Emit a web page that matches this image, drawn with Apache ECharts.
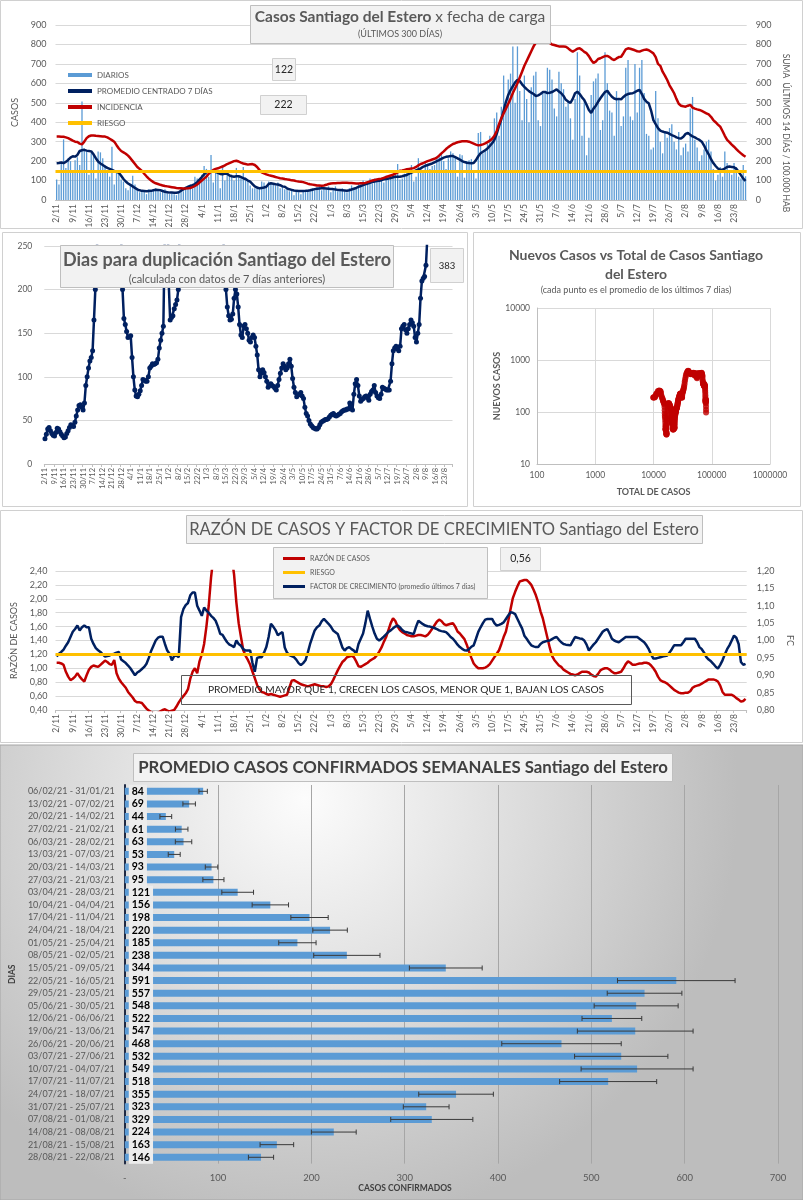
<!DOCTYPE html>
<html><head><meta charset="utf-8">
<script src="https://cdn.jsdelivr.net/npm/echarts@6/dist/echarts.min.js"></script>
<style>html,body{margin:0;padding:0;background:#fff}#c{width:803px;height:1200px}</style>
</head><body><div id="c"></div>
<script>
// ---------- DATA ----------
const START_DAY = Date.UTC(2020, 10, 2); // 2/11/2020, 300 days to 28/8/2021
const N_DAYS = 300;
const DAYS = [];
for (let i = 0; i < N_DAYS; i++) { const d = new Date(START_DAY + i * 86400000); DAYS.push(d.getUTCDate() + '/' + (d.getUTCMonth() + 1)); }

const DIARIOS = [
105,80,195,312,165,215,200,140,205,220, 180,506,265,250,130,240,230,110,250,245,
215,180,150,120,274,80,150,140,105,95, 60,50,75,125,80,60,40,50,45,30,
55,45,55,60,50,40,45,55,35,30, 35,30,25,40,55,45,60,70,80,60,
120,110,90,130,175,160,120,231,90,150, 150,60,180,100,135,120,130,100,165,120,
110,170,115,95,75,60,60,60,65,95, 90,70,95,85,80,75,90,60,70,55,
60,45,50,25,45,40,30,50,45,50, 55,60,50,65,75,50,60,55,70,40,
55,70,45,50,60,45,40,60,75,55, 60,85,80,100,75,90,110,85,110,100,
105,115,90,125,120,110,135,130,185,105, 110,135,150,165,180,95,120,215,160,150,
190,175,160,175,180,220,230,240,200,160, 215,250,240,225,120,235,230,115,200,205,
210,140,110,345,350,240,260,290,330,300, 420,450,330,480,640,500,620,650,790,500,
790,560,410,640,520,400,580,640,660,410, 380,560,550,680,670,620,470,430,660,600,
570,480,510,420,310,520,760,640,330,520, 230,320,540,610,625,650,360,410,760,600,
460,450,330,560,520,380,430,680,720,430, 410,700,450,680,720,550,340,330,260,270,
560,420,300,240,350,320,370,390,300,260, 350,230,270,290,250,470,530,310,270,200,
230,260,300,310,250,160,100,130,170,120, 250,190,150,130,190,170,120,110,180,122];

const PROMEDIO = [
189,190,193,190,196,206,218,225,223,232, 252,256,258,254,252,250,235,215,198,188,
180,172,165,160,155,150,146,140,125,108, 95,85,78,70,62,55,50,47,46,45,
46,47,50,53,52,50,46,42,40,38, 38,37,37,40,48,55,62,68,72,76,
82,92,105,118,132,145,148,148,146,145, 140,134,132,136,135,126,122,120,122,122,
118,112,108,100,94,82,70,64,60,62, 64,68,82,86,84,81,80,76,70,68,
60,55,52,49,47,46,46,46,47,48, 50,53,56,58,59,60,60,59,58,57,
56,54,52,51,50,49,48,50,54,58, 62,67,72,77,81,85,89,92,95,97,
99,102,106,108,110,113,117,120,120,120, 122,126,129,135,141,146,152,158,163,170,
175,180,184,188,194,200,205,212,218,222, 224,226,226,220,214,208,200,195,192,190,
189,190,205,225,240,248,256,265,278,292, 310,340,380,415,460,505,540,565,585,605,
618,612,595,582,570,560,552,545,535,538, 545,555,556,550,552,555,562,569,558,549,
535,515,506,500,520,549,557,545,528,514, 490,463,448,470,485,505,523,540,555,562,
545,531,522,518,520,518,530,540,545,548, 549,555,562,566,545,520,505,497,460,411,
390,370,357,352,348,346,340,334,329,322, 318,316,325,340,345,335,327,322,315,309,
300,280,255,235,210,190,175,162,155,156, 162,170,172,170,168,160,145,128,110,98];

const INCIDENCIA = [
326,326,325,325,322,318,312,305,300,298, 290,286,300,318,328,332,332,330,329,328,
327,326,322,315,308,300,282,265,252,245, 238,228,215,200,185,170,160,150,135,122,
110,100,92,86,82,78,75,72,70,68, 66,64,62,61,60,59,59,60,62,66,
72,80,90,100,110,120,135,145,155,160, 163,168,172,178,185,190,195,200,202,198,
192,188,185,182,184,185,180,170,155,142, 137,132,128,125,122,118,115,112,111,108,
106,104,101,100,97,95,94,92,88,84, 81,79,77,75,74,73,75,78,82,85,
86,86,87,88,89,89,89,88,87,86, 85,85,86,86,88,92,96,100,103,106,
108,110,114,118,122,126,130,136,142,150, 152,155,158,160,162,164,170,178,185,189,
195,200,204,208,212,218,228,240,250,262, 272,280,288,292,297,300,302,302,302,300,
295,290,285,281,283,286,291,298,305,315, 330,355,390,420,445,470,495,520,550,575,
600,630,660,690,715,740,765,790,810,822, 835,840,832,818,808,800,797,793,790,789,
789,788,780,770,763,770,778,780,772,762, 755,740,720,705,712,725,729,735,740,741,
735,725,720,728,735,737,755,775,780,778, 774,770,765,763,768,772,774,770,762,754,
735,700,690,660,640,617,590,570,549,520, 495,485,482,480,485,489,475,470,466,463,
458,452,446,440,428,411,400,388,377,355, 330,309,298,285,274,262,250,240,230,222];

const RIESGO_CASOS = 150;

const DUPLICACION = [
29,34,40,42,38,35,33,32,36,41, 40,37,34,32,30,31,35,38,42,45,
44,43,48,55,62,67,68,65,62,70, 90,100,110,118,122,130,165,200,240,280,
320,360,400,450,500,560,620,700,750,700, 620,540,460,400,350,300,260,200,167,160,
152,145,146,147,122,100,85,78,77,80, 84,90,97,96,95,95,100,110,112,115,
114,115,116,120,133,142,150,158,260,380, 300,205,165,168,170,178,183,188,200,280,
350,420,500,560,600,620,640,600,560,520, 500,480,470,450,430,420,410,400,380,370,
360,350,340,330,320,310,300,290,280,270, 265,260,230,200,180,170,165,166,172,190,
200,195,180,160,148,145,158,160,155,150, 142,140,145,148,145,135,125,108,100,104,
108,105,100,95,88,90,92,90,89,87, 85,90,97,104,110,115,112,108,110,115,
120,112,98,88,82,77,79,80,82,78, 75,65,58,55,50,46,44,42,41,40,
40,42,45,48,49,50,51,51,52,54, 56,57,58,56,55,56,57,58,60,61,
62,62,63,63,70,65,62,80,92,97, 90,78,72,74,75,77,78,76,73,80,
83,85,90,82,78,76,75,80,88,87, 86,85,85,85,95,115,130,133,135,132,
130,135,155,158,160,154,150,155,160,165, 162,158,145,140,150,160,190,210,213,215,
228,260,290,310,320,330,340,345,350,355, 358,360,362,365,368,370,373,376,380,383];

const RAZON = [
1.08,1.08,1.07,1.05,0.95,0.88,0.83,0.85,0.88,0.93, 0.88,0.84,0.81,0.90,0.98,1.02,1.04,1.03,1.02,1.05,
1.08,1.11,1.09,1.06,1.05,1.12,0.93,0.85,0.80,0.76, 0.72,0.66,0.62,0.58,0.53,0.51,0.51,0.50,0.46,0.42,
0.39,0.37,0.36,0.35,0.36,0.38,0.40,0.41,0.39,0.38, 0.39,0.40,0.45,0.51,0.56,0.60,0.64,0.70,0.85,0.95,
1.00,0.93,1.10,1.20,1.35,1.60,1.90,2.30,2.60,2.90, 3.10,3.20,3.25,3.20,3.10,2.90,2.60,2.35,1.95,1.65,
1.45,1.26,1.18,1.12,1.05,0.95,0.86,0.76,0.70,0.66, 0.65,0.63,0.62,0.63,0.62,0.61,0.60,0.59,0.60,0.61,
0.62,0.72,0.82,0.83,0.81,0.79,0.77,0.76,0.75,0.74, 0.75,0.76,0.77,0.76,0.75,0.74,0.74,0.73,0.74,0.77,
0.83,0.90,0.97,1.03,1.09,1.12,1.16,1.17,1.18,1.16, 1.10,1.03,1.02,1.04,1.06,1.08,1.11,1.13,1.15,1.19,
1.24,1.30,1.38,1.45,1.55,1.65,1.72,1.68,1.60,1.55, 1.52,1.50,1.48,1.47,1.46,1.46,1.47,1.48,1.48,1.47,
1.46,1.48,1.52,1.57,1.62,1.67,1.70,1.68,1.64,1.62, 1.63,1.64,1.65,1.60,1.53,1.50,1.46,1.42,1.34,1.24,
1.15,1.07,1.03,1.00,1.00,1.00,1.01,1.03,1.06,1.11, 1.16,1.21,1.26,1.35,1.45,1.53,1.68,1.85,2.01,2.10,
2.18,2.25,2.26,2.27,2.27,2.24,2.20,2.13,2.05,1.95, 1.82,1.72,1.58,1.44,1.30,1.18,1.12,1.08,1.04,1.02,
0.98,0.96,0.94,0.92,0.91,0.90,0.91,0.93,0.95,0.95, 0.95,0.94,0.91,0.89,0.88,0.92,0.97,0.99,1.00,1.00,
0.98,0.95,0.93,0.93,0.94,0.95,1.00,1.06,1.10,1.08, 1.05,1.05,1.06,1.07,1.07,1.08,1.08,1.07,1.04,1.00,
0.95,0.88,0.83,0.81,0.80,0.78,0.75,0.72,0.69,0.67, 0.65,0.64,0.64,0.65,0.65,0.67,0.72,0.74,0.75,0.76,
0.78,0.80,0.82,0.84,0.84,0.84,0.83,0.81,0.75,0.66, 0.62,0.62,0.62,0.62,0.60,0.57,0.55,0.52,0.53,0.56];

const FACTOR = [
0.954,0.962,0.967,0.974,0.985,0.995,1.010,1.025,1.033,1.043, 1.029,1.038,1.043,1.038,1.038,1.005,0.990,0.978,0.972,0.967,
0.960,0.954,0.955,0.957,0.960,0.962,0.965,0.967,0.945,0.940, 0.935,0.928,0.920,0.910,0.900,0.908,0.912,0.918,0.924,0.933,
0.950,0.970,0.985,1.000,1.008,1.011,1.011,0.990,0.971,0.962, 0.943,0.955,0.957,0.952,1.067,1.090,1.102,1.108,1.130,1.138,
1.138,1.100,1.086,1.071,1.095,1.086,1.080,1.071,1.065,1.057, 1.040,1.019,1.016,1.005,0.995,0.988,0.985,0.981,1.000,0.990,
0.985,0.975,0.971,0.971,0.971,0.935,0.910,0.950,0.952,0.952, 0.965,0.981,1.010,1.048,1.040,1.030,1.015,1.020,1.024,0.980,
0.965,0.958,0.955,0.952,0.945,0.935,0.929,0.935,0.943,0.965, 0.990,1.010,1.029,1.038,1.043,1.055,1.062,1.055,1.048,1.040,
1.029,1.024,1.019,1.000,0.980,0.971,0.978,0.981,0.975,0.971, 0.962,0.990,1.005,1.020,1.050,1.086,1.062,1.040,1.020,1.005,
1.000,1.005,1.011,1.018,1.025,1.029,1.035,1.040,1.043,1.038, 1.030,1.025,1.024,1.022,1.020,1.019,1.040,1.057,1.052,1.047,
1.043,1.041,1.040,1.038,1.036,1.033,1.029,1.027,1.026,1.024, 1.018,1.010,1.005,0.997,0.988,0.981,0.976,0.972,0.971,0.975,
0.982,0.986,1.005,1.025,1.038,1.050,1.060,1.062,1.062,1.062, 1.050,1.043,1.045,1.048,1.052,1.062,1.072,1.081,1.080,1.076,
1.062,1.048,1.035,1.014,1.005,0.995,0.986,0.983,0.981,0.981, 0.990,0.995,0.997,0.999,1.000,1.004,1.008,1.010,1.002,0.995,
0.990,0.988,0.987,0.986,0.998,1.010,1.008,1.006,1.005,1.000, 0.988,0.971,0.980,0.988,0.995,1.005,1.015,1.025,1.030,1.033,
1.020,1.005,1.000,0.997,0.995,1.000,1.005,1.010,1.010,1.010, 1.010,1.010,1.010,1.005,1.000,0.995,0.986,0.975,0.960,0.948,
0.948,0.950,0.952,0.954,0.955,0.957,0.965,0.975,0.986,0.986, 0.986,0.986,0.995,1.005,1.005,1.005,1.005,1.005,0.995,0.981,
0.975,0.965,0.952,0.945,0.940,0.933,0.925,0.919,0.930,0.943, 0.960,0.975,0.986,1.000,1.014,1.008,0.990,0.938,0.930,0.933];

const RIESGO_RAZON = 1.2;
const TOTAL_PREVIO = 9800; // casos acumulados antes del 2/11

const WEEK_LABELS = ['06/02/21 - 31/01/21','13/02/21 - 07/02/21','20/02/21 - 14/02/21','27/02/21 - 21/02/21',
'06/03/21 - 28/02/21','13/03/21 - 07/03/21','20/03/21 - 14/03/21','27/03/21 - 21/03/21','03/04/21 - 28/03/21',
'10/04/21 - 04/04/21','17/04/21 - 11/04/21','24/04/21 - 18/04/21','01/05/21 - 25/04/21','08/05/21 - 02/05/21',
'15/05/21 - 09/05/21','22/05/21 - 16/05/21','29/05/21 - 23/05/21','05/06/21 - 30/05/21','12/06/21 - 06/06/21',
'19/06/21 - 13/06/21','26/06/21 - 20/06/21','03/07/21 - 27/06/21','10/07/21 - 04/07/21','17/07/21 - 11/07/21',
'24/07/21 - 18/07/21','31/07/21 - 25/07/21','07/08/21 - 01/08/21','14/08/21 - 08/08/21','21/08/21 - 15/08/21',
'28/08/21 - 22/08/21'];
const WEEK_AVG = [84,69,44,61,63,53,93,95,121,156,198,220,185,238,344,591,557,548,522,547,468,532,549,518,355,323,329,224,163,146];
const WEEK_ERR = [4.5,6.7,6.3,6.7,8.8,6.4,6.7,11.3,17,19.5,20,18.5,20,35.5,39,63,40,45,32,62,64,50,60,52,40,24.5,44,24,18,13.5];

// ---------- DERIVED TABLES ----------
let acc = TOTAL_PREVIO;
const SCATTER = DIARIOS.map((v, i) => { acc += v; return [acc, PROMEDIO[i]]; });
const ERR_DATA = WEEK_AVG.map((v, i) => [v, i, WEEK_ERR[i]]);

// ---------- STYLE ----------
const FONT = 'Lato, "Noto Sans", sans-serif';
const GRAY = '#595959';
const GL = '#d9d9d9';
const NAVY = '#002060', RED = '#c00000', ORANGE = '#ffc000', BLUE = '#5b9bd5';
const comma2 = v => Number(v).toFixed(2).replace('.', ',');

const chart = echarts.init(document.getElementById('c'), null, { renderer: 'canvas', width: 803, height: 1200 });

function txt(x, y, text, size, opts) {
  opts = opts || {};
  return { type: 'text', x: x, y: y, z: opts.z || 20, rotation: opts.rotation || 0, silent: true,
    style: { text: text, fontSize: size, fontFamily: FONT, fontWeight: opts.bold ? 'bold' : 'normal',
      fill: opts.color || GRAY, align: opts.align || 'center', verticalAlign: 'middle', rich: opts.rich } };
}
function box(x, y, w, h, fill, stroke, z) {
  return { type: 'rect', z: z, silent: true, shape: { x: x, y: y, width: w, height: h },
    style: { fill: fill, stroke: stroke, lineWidth: 1 } };
}

const graphics = [
  { type: 'rect', z: -100, silent: true, shape: { x: 0, y: 745, width: 803, height: 455 },
    style: { fill: new echarts.graphic.RadialGradient(0.38, 0.12, 0.95, [{ offset: 0, color: '#fcfcfc' }, { offset: 1, color: '#bdbdbd' }]), stroke: '#a6a6a6' } },
  box(0.5, 0.5, 802, 228, 'none', '#d0d0d0', -50),
  box(2.5, 232.5, 465, 274, 'none', '#d0d0d0', -50),
  box(473.5, 232.5, 327, 274, 'none', '#d0d0d0', -50),
  box(0.5, 510.5, 802, 232, 'none', '#d0d0d0', -50),
  // panel 1
  box(250.5, 5.5, 300, 38, '#f2f2f2', '#bfbfbf', 10),
  txt(400, 17, '{b|Casos Santiago del Estero} {n|x fecha de carga}', 15, { rich: {
    b: { fontSize: 15.5, fontWeight: 'bold', fontFamily: FONT, fill: GRAY },
    n: { fontSize: 15.5, fontFamily: FONT, fill: GRAY } } }),
  txt(400, 34, '(ÚLTIMOS 300 DÍAS)', 9),
  box(272.5, 58.5, 23, 22, '#f2f2f2', '#d0d0d0', 10),
  txt(284, 69.5, String(DIARIOS[N_DAYS - 1]), 10.5, { color: '#262626' }),
  box(260.5, 95.5, 46, 19, '#f2f2f2', '#d0d0d0', 10),
  txt(283.5, 105, String(INCIDENCIA[N_DAYS - 1]), 10.5, { color: '#262626' }),
  txt(786, 133, 'SUMA  ÚLTIMOS 14 DÍAS / 100.000 HAB', 8.5, { rotation: -Math.PI / 2 }),
  // panel 2
  box(60.5, 245.5, 333, 42, '#f2f2f2', '#bfbfbf', 10),
  txt(227, 260, 'Dias para duplicación Santiago del Estero', 18, { bold: true }),
  txt(227, 279, '(calculada con datos de 7 días anteriores)', 11),
  box(430.5, 248.5, 33, 34, '#f2f2f2', '#d0d0d0', 10),
  txt(447, 265.5, String(DUPLICACION[N_DAYS - 1]), 9.5, { color: '#262626' }),
  // panel 3
  txt(636, 255, 'Nuevos Casos vs Total de Casos Santiago', 14, { bold: true }),
  txt(636, 274, 'del Estero', 14, { bold: true }),
  txt(636, 290, '(cada punto es el promedio de los últimos 7 dias)', 9),
  // panel 4
  box(186.5, 515.5, 516, 28, '#f2f2f2', '#bfbfbf', 10),
  txt(444, 529.5, 'RAZÓN DE CASOS Y FACTOR DE CRECIMIENTO Santiago del Estero', 16.6),
  box(273.5, 547.5, 214, 51, '#f2f2f2', '#bfbfbf', 3),
  box(500.5, 547.5, 40, 23, '#f2f2f2', '#d0d0d0', 10),
  txt(520.5, 559, comma2(RAZON[N_DAYS - 1]), 10.5, { color: '#262626' }),
  box(181.5, 675.5, 450, 29, 'none', '#595959', 10),
  txt(406, 690, 'PROMEDIO MAYOR QUE 1, CRECEN LOS CASOS, MENOR QUE 1, BAJAN LOS CASOS', 10.2, { color: '#262626' }),
  // panel 5
  box(133.5, 753.5, 539, 28, '#f2f2f2', '#bfbfbf', 10),
  txt(403, 767.5, 'PROMEDIO CASOS CONFIRMADOS SEMANALES Santiago del Estero', 16.8, { bold: true, color: '#404040' }),
  txt(405, 1188, 'CASOS CONFIRMADOS', 8.5, { bold: true, color: '#404040' })
];

function dateAxis(grid, fontSize, ticks) {
  return { type: 'category', gridIndex: grid, data: DAYS, boundaryGap: true,
    axisLine: { lineStyle: { color: '#bfbfbf' } },
    axisTick: { show: ticks, interval: 6, length: 3, lineStyle: { color: '#bfbfbf' } },
    axisLabel: { interval: 6, rotate: 90, fontSize: fontSize, color: GRAY, fontFamily: FONT, margin: 4 },
    splitLine: { show: false } };
}

const option = {
  animation: false,
  textStyle: { fontFamily: FONT },
  graphic: { elements: graphics },
  grid: [
    { left: 55.5, top: 25, width: 691.2, height: 175 },
    { left: 44.3, top: 246, width: 408.2, height: 218 },
    { left: 537, top: 308, width: 233, height: 156 },
    { left: 55.5, top: 571, width: 691.2, height: 139 },
    { left: 118, top: 785, width: 660, height: 378.6 }
  ],
  legend: [
    { data: [{ name: 'DIARIOS', icon: 'rect' }, { name: 'PROMEDIO CENTRADO 7 DÍAS', icon: 'rect' },
             { name: 'INCIDENCIA', icon: 'rect' }, { name: 'RIESGO', icon: 'rect' }],
      orient: 'vertical', left: 63, top: 66, itemWidth: 24, itemHeight: 4, itemGap: 8, selectedMode: false,
      textStyle: { fontSize: 8, color: GRAY, fontFamily: FONT } },
    { data: [{ name: 'RAZÓN DE CASOS', icon: 'rect' }, { name: 'RIESGO', icon: 'rect' },
             { name: 'FACTOR DE CRECIMIENTO (promedio últimos 7 dias)', icon: 'rect' }],
      orient: 'vertical', left: 278, top: 550, itemWidth: 22, itemHeight: 3, itemGap: 7, selectedMode: false,
      textStyle: { fontSize: 7, color: GRAY, fontFamily: FONT } }
  ],
  xAxis: [
    dateAxis(0, 8.5, false),
    dateAxis(1, 7.5, true),
    { type: 'log', logBase: 10, gridIndex: 2, min: 100, max: 1000000,
      axisLine: { lineStyle: { color: '#bfbfbf' } }, axisTick: { show: false },
      axisLabel: { fontSize: 8.5, color: GRAY, formatter: v => String(Math.round(v)), margin: 7 },
      splitLine: { lineStyle: { color: GL } },
      name: 'TOTAL DE CASOS', nameLocation: 'middle', nameGap: 24,
      nameTextStyle: { fontSize: 9, fontWeight: 'bold', color: GRAY } },
    dateAxis(3, 8.5, true),
    { type: 'value', gridIndex: 4, min: 0, max: 700, interval: 100,
      axisLine: { show: false }, axisTick: { show: false },
      axisLabel: { fontSize: 9.5, color: GRAY, margin: 9, formatter: v => v === 0 ? '-' : String(v) },
      splitLine: { lineStyle: { color: '#a6a6a6' } } }
  ],
  yAxis: [
    { type: 'value', gridIndex: 0, min: 0, max: 900, interval: 100, position: 'left',
      axisLine: { show: false }, axisTick: { show: false },
      axisLabel: { fontSize: 9, color: GRAY, margin: 9 },
      splitLine: { lineStyle: { color: GL } },
      name: 'CASOS', nameLocation: 'middle', nameGap: 28, nameTextStyle: { fontSize: 9, color: GRAY } },
    { type: 'value', gridIndex: 0, min: 0, max: 900, interval: 100, position: 'right',
      axisLine: { show: false }, axisTick: { show: false },
      axisLabel: { fontSize: 9, color: GRAY, margin: 9 }, splitLine: { show: false } },
    { type: 'value', gridIndex: 1, min: 0, max: 250, interval: 50,
      axisLine: { show: false }, axisTick: { show: false },
      axisLabel: { fontSize: 8.5, color: GRAY, margin: 12 },
      splitLine: { lineStyle: { color: GL } } },
    { type: 'log', logBase: 10, gridIndex: 2, min: 10, max: 10000,
      axisLine: { show: true, lineStyle: { color: '#bfbfbf' } }, axisTick: { show: false },
      axisLabel: { fontSize: 8.5, color: GRAY, formatter: v => String(Math.round(v)), margin: 7 },
      splitLine: { lineStyle: { color: GL } },
      name: 'NUEVOS CASOS', nameLocation: 'middle', nameGap: 35,
      nameTextStyle: { fontSize: 9, fontWeight: 'bold', color: GRAY } },
    { type: 'value', gridIndex: 3, min: 0.4, max: 2.4, interval: 0.2, position: 'left',
      axisLine: { show: false }, axisTick: { show: false },
      axisLabel: { fontSize: 9, color: GRAY, margin: 8, formatter: comma2 },
      splitLine: { lineStyle: { color: GL } },
      name: 'RAZÓN DE CASOS', nameLocation: 'middle', nameGap: 32, nameTextStyle: { fontSize: 9, color: GRAY } },
    { type: 'value', gridIndex: 3, min: 0.8, max: 1.2, interval: 0.05, position: 'right',
      axisLine: { show: false }, axisTick: { show: false },
      axisLabel: { fontSize: 9, color: GRAY, margin: 10, formatter: comma2 },
      splitLine: { show: false },
      name: 'FC', nameLocation: 'middle', nameGap: 36, nameRotate: -90, nameTextStyle: { fontSize: 9, color: GRAY } },
    { type: 'category', gridIndex: 4, data: WEEK_LABELS, inverse: true,
      axisLine: { lineStyle: { color: '#1f2a44', width: 2 } }, axisTick: { show: false },
      axisLabel: { fontSize: 9, color: GRAY, margin: 10 },
      name: 'DIAS', nameLocation: 'middle', nameGap: 98, nameTextStyle: { fontSize: 8.5, fontWeight: 'bold', color: '#404040' } }
  ],
  series: [
    { name: 'DIARIOS', type: 'bar', xAxisIndex: 0, yAxisIndex: 0, data: DIARIOS, barWidth: 1.3,
      itemStyle: { color: BLUE }, z: 1 },
    { name: 'RIESGO', type: 'line', xAxisIndex: 0, yAxisIndex: 0, data: [], color: ORANGE,
      lineStyle: { width: 3, color: ORANGE }, symbol: 'none',
      markLine: { silent: true, symbol: 'none', label: { show: false }, animation: false,
        lineStyle: { color: ORANGE, width: 3, type: 'solid' }, data: [{ yAxis: RIESGO_CASOS }] } },
    { name: 'PROMEDIO CENTRADO 7 DÍAS', type: 'line', xAxisIndex: 0, yAxisIndex: 0, data: PROMEDIO,
      symbol: 'none', color: NAVY, lineStyle: { width: 2.5, color: NAVY } },
    { name: 'INCIDENCIA', type: 'line', xAxisIndex: 0, yAxisIndex: 1, data: INCIDENCIA,
      symbol: 'none', color: RED, lineStyle: { width: 2.5, color: RED } },
    { name: 'DUPLICACION', type: 'line', xAxisIndex: 1, yAxisIndex: 2, data: DUPLICACION,
      symbol: 'circle', symbolSize: 5, showAllSymbol: true, color: NAVY, lineStyle: { width: 2.5, color: NAVY },
      itemStyle: { color: NAVY }, clip: true },
    { name: 'NUEVOS vs TOTAL', type: 'scatter', xAxisIndex: 2, yAxisIndex: 3, data: SCATTER,
      symbolSize: 6, itemStyle: { color: RED } },
    { name: 'RAZÓN DE CASOS', type: 'line', xAxisIndex: 3, yAxisIndex: 4, data: RAZON,
      symbol: 'none', color: RED, lineStyle: { width: 2.5, color: RED }, clip: true },
    { name: 'RIESGO', type: 'line', xAxisIndex: 3, yAxisIndex: 4, data: [], color: ORANGE,
      lineStyle: { width: 3, color: ORANGE }, symbol: 'none',
      markLine: { silent: true, symbol: 'none', label: { show: false }, animation: false,
        lineStyle: { color: ORANGE, width: 3, type: 'solid' }, data: [{ yAxis: RIESGO_RAZON }] } },
    { name: 'FACTOR DE CRECIMIENTO (promedio últimos 7 dias)', type: 'line', xAxisIndex: 3, yAxisIndex: 5, data: FACTOR,
      symbol: 'none', color: NAVY, lineStyle: { width: 2.5, color: NAVY }, clip: true },
    { name: 'PROMEDIO SEMANAL', type: 'bar', xAxisIndex: 4, yAxisIndex: 6, data: WEEK_AVG, barWidth: 7,
      itemStyle: { color: BLUE },
      label: { show: true, position: [4, '50%'], align: 'left', verticalAlign: 'middle', formatter: '{c}',
        fontWeight: 'bold', fontSize: 10.5, color: '#000', backgroundColor: '#ececec', padding: [1, 3], fontFamily: FONT } },
    { name: 'ERROR', type: 'custom', xAxisIndex: 4, yAxisIndex: 6, data: ERR_DATA, z: 5,
      encode: { x: [0], y: 1 },
      renderItem: function (params, api) {
        const v = api.value(0), idx = api.value(1), e = api.value(2);
        const a = api.coord([v - e, idx]), b = api.coord([v + e, idx]);
        const st = { stroke: '#3a3a3a', lineWidth: 1 };
        return { type: 'group', children: [
          { type: 'line', shape: { x1: a[0], y1: a[1], x2: b[0], y2: b[1] }, style: st },
          { type: 'line', shape: { x1: a[0], y1: a[1] - 2.5, x2: a[0], y2: a[1] + 2.5 }, style: st },
          { type: 'line', shape: { x1: b[0], y1: b[1] - 2.5, x2: b[0], y2: b[1] + 2.5 }, style: st }
        ] };
      } }
  ]
};
chart.setOption(option);
</script>
</body></html>
